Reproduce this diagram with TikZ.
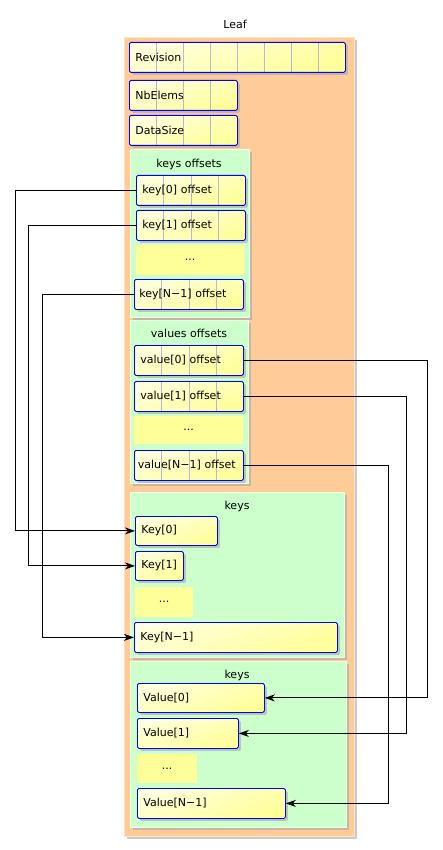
\documentclass[tikz,border=0pt]{standalone}
\usepackage{fontspec}
\setmainfont{DejaVu Sans}
\usetikzlibrary{arrows.meta,shadows,calc}
\definecolor{orangebg}{HTML}{FFCC99}
\definecolor{orangeedge}{HTML}{FFE3C6}
\definecolor{greenbg}{HTML}{CCFFCC}
\definecolor{greenedge}{HTML}{E6FFE6}
\definecolor{yelbase}{HTML}{FFFF99}
\definecolor{yellight}{HTML}{FFFFDD}
\definecolor{cellgray}{HTML}{B8B8CC}
\definecolor{boxblue}{HTML}{0000FF}
\begin{document}
\begin{tikzpicture}[x=1pt,y=-1pt,
  font=\fontsize{11}{13}\selectfont,
  shadowed/.style={drop shadow={shadow xshift=2.5pt,shadow yshift=-2.5pt,fill=black!35,opacity=0.6}},
  outerbox/.style={draw=orangeedge,fill=orangebg,line width=1pt,shadowed},
  grpbox/.style={draw=greenedge,fill=greenbg,line width=1pt,shadowed},
  ybox/.style={anchor=north west,draw=boxblue,line width=0.8pt,rounded corners=1.5pt,
    top color=yellight,bottom color=yelbase,shading angle=20,
    inner xsep=6pt,inner ysep=0pt,align=left,shadowed},
  dotsbox/.style={anchor=north west,fill=yelbase,inner sep=0pt,align=center},
  cells/.style={path picture={%
    \pgfmathtruncatemacro\ncellsm{#1-1}%
    \foreach \i in {1,...,\ncellsm}{%
      \draw[cellgray,line width=0.7pt]
        ($(path picture bounding box.north west)!{\i/#1}!(path picture bounding box.north east)$) --
        ($(path picture bounding box.south west)!{\i/#1}!(path picture bounding box.south east)$);}}},
  lbl/.style={inner sep=0pt},
  conn/.style={draw=black,line width=0.9pt,-{Stealth[length=10pt,width=7pt,inset=3pt]}}
]
\useasboundingbox (0,0) rectangle (443,850);

% title
\node[lbl] (leaf) at (235,24) {Leaf};

% outer leaf box
\draw[outerbox] (124,38) rectangle (354,836);

% header fields
\node[ybox,cells=8,text width=204pt,minimum height=30pt] (rev) at (129,42) {Revision};
\node[ybox,cells=4,text width=96pt,minimum height=30pt] (nbe) at (129,80) {NbElems};
\node[ybox,cells=4,text width=96pt,minimum height=30pt] (ds) at (129,115) {DataSize};

% keys offsets group
\draw[grpbox] (130,150) rectangle (249,317);
\node[lbl] (kolab) at (189,164) {keys offsets};
\node[ybox,cells=4,text width=97pt,minimum height=30pt] (ko0) at (136,175) {key[0] offset};
\node[ybox,cells=4,text width=97pt,minimum height=30pt] (ko1) at (136,210) {key[1] offset};
\node[dotsbox,minimum width=108pt,minimum height=30pt] (kod) at (136,245) {...};
\node[ybox,cells=4,inner xsep=5pt,text width=99pt,minimum height=30pt] (koN) at (134,279) {key[N−1] offset};

% values offsets group
\draw[grpbox] (130,320) rectangle (248,483);
\node[lbl] (volab) at (189,333) {values offsets};
\node[ybox,cells=4,text width=97pt,minimum height=30pt] (vo0) at (134,345) {value[0] offset};
\node[ybox,cells=4,text width=97pt,minimum height=30pt] (vo1) at (134,381) {value[1] offset};
\node[dotsbox,minimum width=109pt,minimum height=28pt] (vod) at (134,416) {...};
\node[ybox,cells=4,inner xsep=3.5pt,text width=102pt,minimum height=30pt] (voN) at (134,450) {value[N−1] offset};

% keys group
\draw[grpbox] (130,492) rectangle (344,657);
\node[lbl] (klab) at (237,506) {keys};
\node[ybox,text width=70pt,minimum height=29pt] (k0) at (135,516) {Key[0]};
\node[ybox,text width=36pt,minimum height=29pt] (k1) at (135,551) {Key[1]};
\node[dotsbox,minimum width=58pt,minimum height=30pt] (kd) at (135,587) {...};
\node[ybox,text width=191pt,minimum height=30pt] (kN) at (134,622) {Key[N−1]};

% values group
\draw[grpbox] (130,661) rectangle (346,827);
\node[lbl] (vlab) at (237,675) {keys};
\node[ybox,text width=115pt,minimum height=29pt] (v0) at (137,683) {Value[0]};
\node[ybox,text width=89pt,minimum height=30pt] (v1) at (137,718) {Value[1]};
\node[dotsbox,minimum width=60pt,minimum height=29pt] (vd) at (137,754) {...};
\node[ybox,text width=136pt,minimum height=30pt] (vN) at (137,788) {Value[N−1]};

% routing columns
\coordinate (c1) at (15,0);
\coordinate (c2) at (28,0);
\coordinate (c3) at (42,0);
\coordinate (c4) at (427,0);
\coordinate (c5) at (406,0);
\coordinate (c6) at (388,0);

% connectors
\draw[conn] (ko0.west) -- (ko0.west -| c1) |- (k0.west);
\draw[conn] (ko1.west) -- (ko1.west -| c2) |- (k1.west);
\draw[conn] (koN.west) -- (koN.west -| c3) |- (kN.west);
\draw[conn] (vo0.east) -- (vo0.east -| c4) |- (v0.east);
\draw[conn] (vo1.east) -- (vo1.east -| c5) |- (v1.east);
\draw[conn] (voN.east) -- (voN.east -| c6) |- (vN.east);
\end{tikzpicture}
\end{document}
